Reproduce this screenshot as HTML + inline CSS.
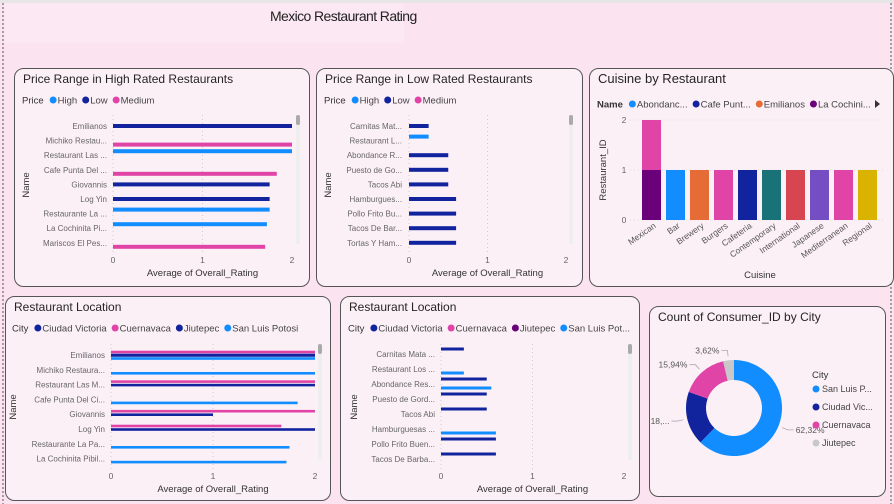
<!DOCTYPE html>
<html><head><meta charset="utf-8">
<style>
html,body{margin:0;padding:0;width:894px;height:504px;overflow:hidden;background:#fbe4f0;font-family:"Liberation Sans",sans-serif;}
svg{position:absolute;left:0;top:0;}
text{font-family:"Liberation Sans",sans-serif;}
</style></head>
<body>
<svg id="s" width="894" height="504" viewBox="0 0 894 504">
  <rect x="0" y="0" width="894" height="504" fill="#fbe4f0"/>
  <rect x="4" y="3" width="400" height="40" fill="#fce8f2"/>
  <rect x="0" y="0" width="894" height="3" fill="#e6e6e6"/>
  <line x1="3" y1="3" x2="3" y2="504" stroke="#555" stroke-dasharray="2,2"/>
  <line x1="891" y1="3" x2="891" y2="504" stroke="#555" stroke-dasharray="2,2"/>
  <text x="270" y="21" font-size="14" fill="#222" letter-spacing="-0.6">Mexico Restaurant Rating</text>
  <g id="g"></g>
</svg>
<script>
// ---- Chart 1: High rated ----
const hiNames=["Emilianos","Michiko Restau...","Restaurant Las ...","Cafe Punta Del ...","Giovannis","Log Yin","Restaurante La ...","La Cochinita Pi...","Mariscos El Pes..."];
const hiSeries=["High","Low","Medium"];
const hiRowSeries=["Low","Medium","High","Medium","Low","Low","High","High","Medium"];
const hiValues=[2,2,2,1.83,1.75,1.75,1.75,1.72,1.7];
// ---- Chart 2: Low rated ----
const loNames=["Carnitas Mat...","Restaurant L...","Abondance R...","Puesto de Go...","Tacos Abi","Hamburgues...","Pollo Frito Bu...","Tacos De Bar...","Tortas Y Ham..."];
const loRowSeries=["Low","High","Low","Low","Low","Low","Low","Low","Low"];
const loValues=[0.25,0.25,0.5,0.5,0.5,0.6,0.6,0.6,0.6];
// ---- Chart 3: Cuisine ----
const cuisines=["Mexican","Bar","Brewery","Burgers","Cafeteria","Contemporary","International","Japanese","Mediterranean","Regional"];
const cuisineBase=[1,1,1,1,1,1,1,1,1,1];
const cuisineTop=[1,0,0,0,0,0,0,0,0,0];
const cuisineTicks=[0,1,2];
// ---- Chart 4: Location high ----
const locNames=["Emilianos","Michiko Restaura...","Restaurant Las M...","Cafe Punta Del Ci...","Giovannis","Log Yin","Restaurante La Pa...","La Cochinita Pibil..."];
const locCities=["Ciudad Victoria","Cuernavaca","Jiutepec","San Luis Potosi"];
const locCV=[2,null,null,null,null,null,null,null];
const locCu=[2,null,2,null,2,1.67,null,null];
const locJi=[2,null,2,null,1,2,null,null];
const locSLP=[2,2,null,1.83,null,null,1.75,1.72];
// ---- Chart 5: Location low ----
const loc2Names=["Carnitas Mata ...","Restaurant Los ...","Abondance Res...","Puesto de Gord...","Tacos Abi","Hamburguesas ...","Pollo Frito Buen...","Tacos De Barba..."];
const loc2CV=[0.25,null,0.5,0.5,0.5,null,0.6,0.6];
const loc2SLP=[null,0.25,0.55,null,null,0.6,null,null];
// ---- Chart 6: Donut ----
const donutCities=["San Luis Potosi","Ciudad Victoria","Cuernavaca","Jiutepec"];
const donutValues=[62.32,18.12,15.94,3.62];
const xTicks=[0,1,2];

const NS="http://www.w3.org/2000/svg";
const G=document.getElementById('g');
function el(tag,attrs,parent,txt){const e=document.createElementNS(NS,tag);for(const k in attrs)e.setAttribute(k,attrs[k]);if(txt!==undefined)e.textContent=txt;(parent||G).appendChild(e);return e;}
const BLUE="#118dff",NAVY="#12239e",PINK="#e044a7",PURP="#6b007b";

function panel(x,y,w,h,name,title,ts){
  const g=el('g',{});
  
  
  el('rect',{x:x+0.5,y:y+0.5,width:w,height:h,rx:9,fill:"#fcf0f7",stroke:"#555","stroke-width":1},g);
  const t=el('text',{x:x+9,y:y+15,"font-size":ts||12,fill:"#252423"},g,title);
  
  
  return g;
}
function legend(g,x,y,label,items,colors,bold){
  const t=el('text',{x:x,y:y+3.5,"font-size":9.5,fill:"#333","font-weight":bold?"bold":"normal"},g,label);
  
  
  let cx=x+t.getComputedTextLength()+6;
  items.forEach((it,i)=>{
    const lg=el('g',{},g);
    
    
    el('circle',{cx:cx+3.5,cy:y,r:3.5,fill:colors[i]},lg);
    const tt=el('text',{x:cx+8,y:y+3.5,"font-size":9.5,fill:"#444"},lg,it);
    cx+=8+tt.getComputedTextLength()+5;
  });
}
function hbarAxes(g,o){
  const xs=v=>o.x0+(o.x2-o.x0)*v/2;
  xTicks.forEach(t=>{
    if(t<2) el('line',{x1:xs(t),x2:xs(t),y1:o.top,y2:o.bot,stroke:"#ccc","stroke-dasharray":"1,3"},g);
    const tl=el('text',{x:xs(t),y:o.bot+9,"font-size":8.5,fill:"#666","text-anchor":"middle"},g,t);
    
    
  });
  const xt=el('text',{x:(o.x0+o.x2)/2,y:o.bot+22,"font-size":9.5,fill:"#333","text-anchor":"middle"},g,"Average of Overall_Rating");
  
  
  const yt=el('text',{x:0,y:0,"font-size":9.5,fill:"#333","text-anchor":"middle",transform:`translate(${o.yx},${o.yy}) rotate(-90)`},g,"Name");
  
  
  el('rect',{x:o.sx,y:o.top,width:4,height:o.bot-o.top-10,fill:"#eee"},g);
  const sb=el('rect',{x:o.sx,y:o.top,width:4,height:10,rx:2,fill:"#aaa"},g);
  
  
  return xs;
}
function catLabels(g,names,lx,y0,step){
  names.forEach((n,i)=>{
    const t=el('text',{x:lx,y:y0+i*step+3,"font-size":8,fill:"#666","text-anchor":"end"},g,n);
    
    
  });
}
function bar(g,xs,v,y,h,color){
  const r=el('rect',{x:xs(0),y:y-h/2,width:xs(v)-xs(0),height:h,fill:color});
  g.appendChild(r);
  
  
}
const priceColor={High:BLUE,Low:NAVY,Medium:PINK};
const priceOff={High:-4,Low:0,Medium:4};

// Chart 1
{const g=panel(14,68,295,218,'high-rated-chart','Price Range in High Rated Restaurants');
legend(g,22,100,'Price',hiSeries,[BLUE,NAVY,PINK]);
const o={x0:113,x2:292,top:115,bot:254,yx:29,yy:185,sx:296};
const xs=hbarAxes(g,o);catLabels(g,hiNames,107,126,14.6);
hiValues.forEach((v,i)=>bar(g,xs,v,126+i*14.6+priceOff[hiRowSeries[i]],4,priceColor[hiRowSeries[i]]));}
// Chart 2
{const g=panel(316,68,266,218,'low-rated-chart','Price Range in Low Rated Restaurants');
legend(g,324,100,'Price',hiSeries,[BLUE,NAVY,PINK]);
const o={x0:409,x2:566,top:115,bot:254,yx:331,yy:185,sx:569};
const xs=hbarAxes(g,o);catLabels(g,loNames,402,126,14.6);
loValues.forEach((v,i)=>bar(g,xs,v,126+i*14.6+priceOff[loRowSeries[i]],4,priceColor[loRowSeries[i]]));}
// Chart 3
{const g=panel(589,68,304,218,'cuisine-chart','Cuisine by Restaurant',13);
legend(g,597,104,'Name',["Abondanc...","Cafe Punt...","Emilianos","La Cochini..."],[BLUE,NAVY,"#e66c37",PURP],true);
el('path',{d:"M875 100 L880 104 L875 108 Z",fill:"#333"},g);
const baseColors=[PURP,BLUE,"#e66c37",PINK,NAVY,"#197278","#d64550","#744ec2",PINK,"#d9b300"];
const y0=220,ppu=50,cx0=651.5,step=24,bw=19;
const ys=v=>y0-v*ppu;
cuisineTicks.forEach(t=>{
  el('line',{x1:630,x2:884,y1:ys(t),y2:ys(t),stroke:"#ddd","stroke-dasharray":"1,3"},g);
  const tl=el('text',{x:624,y:ys(t)+3,"font-size":8.5,fill:"#666","text-anchor":"middle"},g,t);
  
  
});
cuisines.forEach((c,i)=>{
  const cx=cx0+i*step;
  const b=el('rect',{x:cx-bw/2,y:ys(cuisineBase[i]),width:bw,height:ys(0)-ys(cuisineBase[i]),fill:baseColors[i]},g);
  
  
  if(cuisineTop[i]>0){
    const t=el('rect',{x:cx-bw/2,y:ys(cuisineBase[i]+cuisineTop[i]),width:bw,height:ys(cuisineBase[i])-ys(cuisineBase[i]+cuisineTop[i]),fill:PINK},g);
    
    
  }
  const l=el('text',{x:0,y:0,"font-size":8.5,fill:"#555","text-anchor":"end",transform:`translate(${cx+5},${227}) rotate(-35)`},g,c);
  
  
});
const xt=el('text',{x:760,y:278,"font-size":9.5,fill:"#333","text-anchor":"middle"},g,"Cuisine");


const yt=el('text',{x:0,y:0,"font-size":9.5,fill:"#333","text-anchor":"middle",transform:"translate(606,170) rotate(-90)"},g,"Restaurant_ID");

}
// Chart 4
{const g=panel(5,296,325,204,'location-chart-high','Restaurant Location');
legend(g,12,328,'City',locCities,[NAVY,PINK,NAVY,BLUE]);
const o={x0:111,x2:315,top:344,bot:470,yx:16,yy:407,sx:318};
const xs=hbarAxes(g,o);catLabels(g,locNames,105,355,14.8);
const sets=[[locCu,-3,PINK],[locCV,0,NAVY],[locJi,0.5,NAVY],[locSLP,3.5,BLUE]];
sets.forEach(([arr,off,c])=>arr.forEach((v,i)=>{if(v!==null)bar(g,xs,v,355+i*14.8+off,2.6,c);}));}
// Chart 5
{const g=panel(340,296,299,204,'location-chart-low','Restaurant Location');
legend(g,348,328,'City',["Ciudad Victoria","Cuernavaca","Jiutepec","San Luis Pot..."],[NAVY,PINK,PURP,BLUE]);
const o={x0:441,x2:624,top:344,bot:470,yx:357,yy:407,sx:628};
const xs=hbarAxes(g,o);catLabels(g,loc2Names,435,354,15);
loc2CV.forEach((v,i)=>{if(v!==null)bar(g,xs,v,354+i*15-5,3,NAVY);});
loc2SLP.forEach((v,i)=>{if(v!==null)bar(g,xs,v,354+i*15+4,3,BLUE);});}
// Chart 6 donut
{const g=panel(649,306,236,190,'city-donut-chart','Count of Consumer_ID by City');
const cx=734,cy=408,R=48,r=28,cols=[BLUE,NAVY,PINK,"#c8c8c8"];
const total=donutValues.reduce((a,b)=>a+b,0);let a0=0;
const P=(a,rr)=>[cx+rr*Math.sin(a),cy-rr*Math.cos(a)];
const lbl=["62,32%","18,...","15,94%","3,62%"];
donutValues.forEach((v,i)=>{
  const a1=a0+v/total*2*Math.PI;const large=(a1-a0)>Math.PI?1:0;
  const [x1,y1]=P(a0,R),[x2,y2]=P(a1,R),[x3,y3]=P(a1,r),[x4,y4]=P(a0,r);
  const s=el('path',{d:`M${x1} ${y1} A${R} ${R} 0 ${large} 1 ${x2} ${y2} L${x3} ${y3} A${r} ${r} 0 ${large} 0 ${x4} ${y4} Z`,fill:cols[i]},g);
  
  
  const am=(a0+a1)/2;const [lx,ly]=P(am,R+4);const [ex,ey]=P(am,R+10);
  const right=Math.sin(am)>=0;const hx=ex+(right?6:-6);
  el('polyline',{points:`${lx},${ly} ${ex},${ey} ${hx},${ey}`,fill:"none",stroke:"#aaa","stroke-width":0.8},g);
  const t=el('text',{x:hx+(right?2:-2),y:ey+3,"font-size":8.5,fill:"#555","text-anchor":right?"start":"end"},g,lbl[i]);
  
  
  a0=a1;
});
const lt=el('text',{x:812,y:378,"font-size":9.5,fill:"#333"},g,"City");


["San Luis P...","Ciudad Vic...","Cuernavaca","Jiutepec"].forEach((n,i)=>{
  const lg=el('g',{},g);
  
  
  el('circle',{cx:816,cy:389+i*18,r:3.5,fill:cols[i]},lg);
  el('text',{x:822,y:392+i*18,"font-size":9,fill:"#444"},lg,n);
});}
</script>
</body></html>
